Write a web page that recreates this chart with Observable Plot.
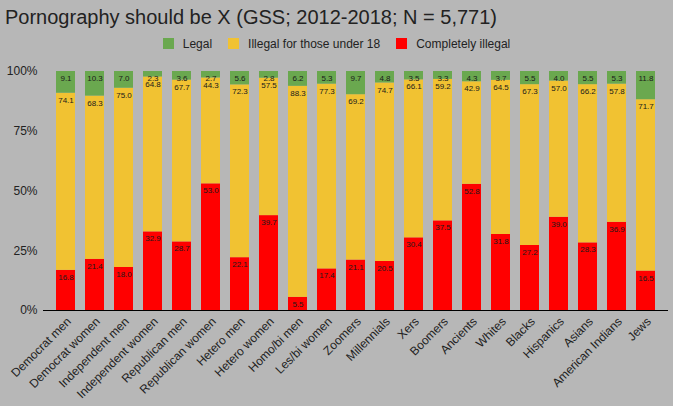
<!DOCTYPE html>
<html>
<head>
<meta charset="utf-8">
<script src="https://cdn.jsdelivr.net/npm/d3@7"></script>
<script src="https://cdn.jsdelivr.net/npm/@observablehq/plot@0.6"></script>
<style>
  html, body { margin: 0; padding: 0; background: #b7b7b7; }
  #wrap { position: relative; width: 673px; height: 406px; background: #b7b7b7; font-family: "Liberation Sans", Arial, sans-serif; overflow: hidden; }
  #title { position: absolute; left: 5px; top: 5px; font-size: 20px; line-height: 24px; color: #222; white-space: nowrap; }
  #legend { position: absolute; left: 0; top: 37px; width: 673px; text-align: center; font-size: 12px; line-height: 14px; color: #222; white-space: nowrap; }
  #legend .item { display: inline-block; margin: 0 8px; }
  #legend .sw { display: inline-block; width: 11px; height: 11px; vertical-align: -1px; margin-right: 9px; }
  #chart { position: absolute; left: 0; top: 60px; }
</style>
</head>
<body>
<div id="wrap">
  <div id="title">Pornography should be X (GSS; 2012-2018; N = 5,771)</div>
  <div id="legend"></div>
  <div id="chart"></div>
</div>
<script>
const categories = ["Democrat men","Democrat women","Independent men","Independent women","Republican men","Republican women","Hetero men","Hetero women","Homo/bi men","Les/bi women","Zoomers","Millennials","Xers","Boomers","Ancients","Whites","Blacks","Hispanics","Asians","American Indians","Jews"];
const completelyIllegal = [16.8,21.4,18.0,32.9,28.7,53.0,22.1,39.7,5.5,17.4,21.1,20.5,30.4,37.5,52.8,31.8,27.2,39.0,28.3,36.9,16.5];
const illegalUnder18 = [74.1,68.3,75.0,64.8,67.7,44.3,72.3,57.5,88.3,77.3,69.2,74.7,66.1,59.2,42.9,64.5,67.3,57.0,66.2,57.8,71.7];
const legal = [9.1,10.3,7.0,2.3,3.6,2.7,5.6,2.8,6.2,5.3,9.7,4.8,3.5,3.3,4.3,3.7,5.5,4.0,5.5,5.3,11.8];
const seriesNames = ["Completely illegal","Illegal for those under 18","Legal"];
const seriesColors = ["#ff0000","#f1c232","#6aa84f"];
const yTicks = [0,25,50,75,100];

const seriesValues = [completelyIllegal, illegalUnder18, legal];
const data = [];
categories.forEach((c, i) => {
  seriesNames.forEach((s, j) => {
    data.push({category: c, series: s, value: seriesValues[j][i]});
  });
});

// legend (order: Legal, Illegal for those under 18, Completely illegal)
const legendOrder = [2,1,0];
const legendEl = document.getElementById("legend");
legendOrder.forEach(j => {
  const it = document.createElement("span");
  it.className = "item";
  it.innerHTML = `<span class="sw" style="background:${seriesColors[j]}"></span>${seriesNames[j]}`;
  legendEl.appendChild(it);
});

const stackOpts = {x: "category", y: "value", z: "series", order: seriesNames};

const chart = Plot.plot({
  width: 673,
  height: 346,
  marginTop: 11,
  marginBottom: 96,
  marginLeft: 43,
  marginRight: 5,
  style: {background: "transparent", fontFamily: "Liberation Sans, Arial, sans-serif", fontSize: "12px", color: "#222"},
  x: {domain: categories, padding: 0.36, label: null},
  y: {domain: [0, 100], label: null},
  color: {domain: seriesNames, range: seriesColors},
  marks: [
    Plot.ruleY(yTicks.filter(d => d > 0), {stroke: "#8a8a8a", strokeWidth: 1, x1: 43, x2: 671}),
    Plot.barY(data, Plot.stackY({...stackOpts, fill: "series"})),
    Plot.text(data, Plot.stackY2({...stackOpts, text: d => d.value.toFixed(1), dy: 7, fontSize: 8, fill: "#1a1a1a"})),
    Plot.ruleY([0], {stroke: "#000", strokeWidth: 1.2}),
    Plot.axisY({ticks: yTicks, tickFormat: d => d + "%", tickSize: 0, tickPadding: 6, label: null}),
    Plot.axisX({tickRotate: -45, tickSize: 0, tickPadding: 9, dx: 3, label: null})
  ]
});
document.getElementById("chart").appendChild(chart);
</script>
</body>
</html>
